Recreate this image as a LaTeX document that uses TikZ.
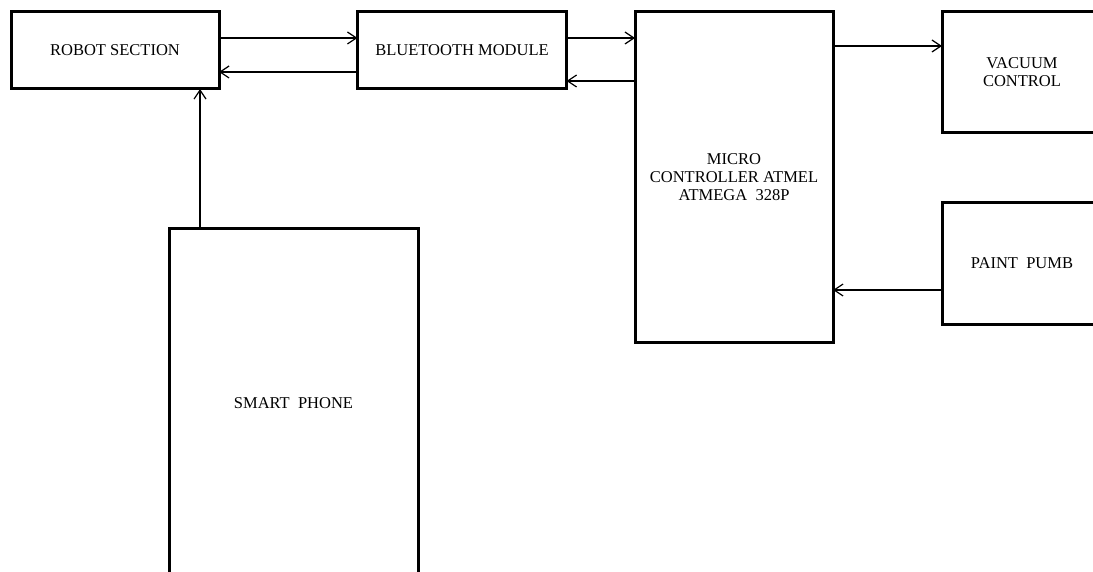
\documentclass[tikz,border=0pt]{standalone}
\usepackage{fontspec}
\setmainfont{Liberation Serif}
\usepackage{tikz}
\usetikzlibrary{positioning, calc, arrows.meta}

\begin{document}
\begin{tikzpicture}[x=1pt, y=-1pt,
    block/.style={draw, line width=3pt, rectangle, inner sep=0pt, outer sep=0pt,
      align=center, font=\fontsize{16.5}{18}\selectfont},
    link/.style={line width=1.2pt, -{Straight Barb[length=9pt,width=12pt,line width=1.2pt]}},
  ]
    \useasboundingbox (0,0) rectangle (1093,572);
    \clip (0,0) rectangle (1093,572);
    \node (robot) [block, minimum width=208pt, minimum height=77pt] at (115,50.5) {ROBOT SECTION};
    \node (bt) [block, minimum width=209pt, minimum height=77pt] at (462,50.5) {BLUETOOTH MODULE};
    \node (mcu) [block, minimum width=198pt, minimum height=330pt] at (734,177)
      {MICRO\\CONTROLLER ATMEL\\ATMEGA\ \ 328P};
    \node (vac) [block, minimum width=160pt, minimum height=121pt] at (1022,72.5) {VACUUM\\CONTROL};
    \node (pump) [block, minimum width=160pt, minimum height=121pt] at (1022,263.5) {PAINT\ \ PUMB};
    \node (phone) [block, minimum width=249pt, minimum height=348pt] at (293.5,403) {SMART\ \ PHONE};

    \draw[link] ([yshift=12.5pt]robot.east) -- ([yshift=12.5pt]robot.east -| bt.west);
    \draw[link] ([yshift=-21.5pt]bt.west) -- ([yshift=-21.5pt]bt.west -| robot.east);
    \draw[link] ([yshift=12.5pt]bt.east) -- ([yshift=12.5pt]bt.east -| mcu.west);
    \draw[link] ([yshift=-30.5pt]bt.east -| mcu.west) -- ([yshift=-30.5pt]bt.east);
    \draw[link] ([yshift=26.5pt]vac.west -| mcu.east) -- ([yshift=26.5pt]vac.west);
    \draw[link] ([yshift=-26.5pt]pump.west) -- ([yshift=-26.5pt]pump.west -| mcu.east);
    \draw[link] ([xshift=-93.5pt]phone.north) -- ([xshift=-93.5pt]phone.north |- robot.south);
\end{tikzpicture}
\end{document}
